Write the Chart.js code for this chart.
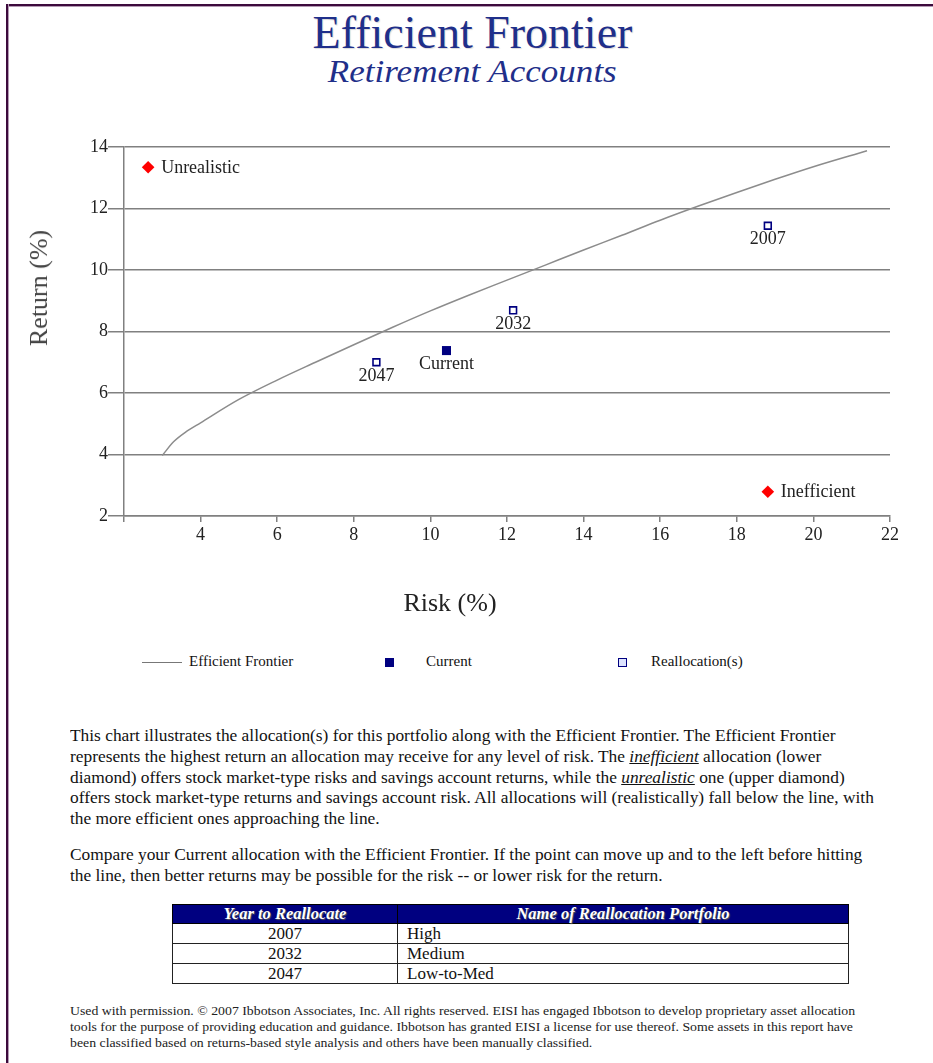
<!DOCTYPE html>
<html lang="en">
<head>
  <meta charset="UTF-8">
  <title>Efficient Frontier</title>
  <script src="https://cdn.jsdelivr.net/npm/chart.js"></script>
  <style>
    body {
      margin: 0;
      width: 933px;
      height: 1063px;
      position: relative;
      background: #fff;
      font-family: 'Liberation Serif', 'Times New Roman', serif;
      overflow: hidden;
    }
    .frame-top {
      position: absolute; left: 6px; top: 4px; right: 0; height: 2px;
      background: #3c0a3c; border-bottom: 1px solid #b49ab4;
    }
    .frame-left {
      position: absolute; left: 6px; top: 4px; bottom: 0; width: 2px;
      background: #3c0a3c; border-right: 1px solid #b49ab4;
    }
    .title {
      position: absolute; left: 0; width: 945px; text-align: center;
      color: #1f2f8a; top: 8px; font-size: 46px; line-height: 50px;
      text-shadow: 1px 1px 1px rgba(0,0,0,0.15);
    }
    .subtitle {
      position: absolute; left: 0; width: 945px; text-align: center;
      color: #1f2f8a; top: 54px; font-size: 31px; line-height: 36px; font-style: italic;
      transform: scaleX(1.13); transform-origin: 474px 0;
    }
    #wrap {
      position: absolute; left: 0; top: 100px; width: 933px; height: 540px;
    }
    .ytitle {
      position: absolute; left: 39px; top: 288px; font-size: 26px; color: #444;
      transform: translate(-50%, -50%) rotate(-90deg); white-space: nowrap;
    }
    .xtitle {
      position: absolute; left: 450px; top: 603px; font-size: 26px; color: #222;
      transform: translate(-50%, -50%); white-space: nowrap;
    }
    .legend { position: absolute; top: 651px; font-size: 15px; color: #111; line-height: 20px; }
    .text {
      position: absolute; left: 70px; font-size: 16px; line-height: 20.8px; color: #111;
      white-space: nowrap; transform: scaleX(1.085); transform-origin: 0 0;
    }
    table {
      position: absolute; left: 172px; top: 904px; width: 677px;
      border-collapse: collapse; font-size: 17px; color: #111;
    }
    th {
      background: #000080; color: #fff; font-style: italic; font-weight: bold; height: 18px;
      padding: 0; font-size: 16.5px; line-height: 18px; text-shadow: 1px 1px 1px #555; border: 1px solid #000;
    }
    td { border: 1px solid #222; height: 19px; padding: 0; line-height: 19px; }
    td.c { text-align: center; width: 224px; }
    td.l { padding-left: 9px; }
    .foot {
      position: absolute; left: 70px; top: 1003px; font-size: 11.5px; line-height: 16px; color: #222;
      white-space: nowrap; transform: scaleX(1.2); transform-origin: 0 0;
    }
  </style>
</head>
<body>
  <div class="frame-top"></div>
  <div class="frame-left"></div>

  <div class="title">Efficient Frontier</div>
  <div class="subtitle">Retirement Accounts</div>

  <div id="wrap"><canvas id="chart"></canvas></div>
  <div class="ytitle">Return (%)</div>
  <div class="xtitle">Risk (%)</div>

  <div class="legend" style="left:142px;">
    <span style="display:inline-block;width:40px;height:0;border-top:1px solid #777;vertical-align:middle;margin-right:7px;"></span>Efficient Frontier
  </div>
  <div class="legend" style="left:385px;">
    <span style="display:inline-block;width:9px;height:9px;background:#000080;vertical-align:middle;margin-right:32px;"></span>Current
  </div>
  <div class="legend" style="left:618px;">
    <span style="display:inline-block;width:7px;height:7px;border:1.5px solid #000080;background:#dde3ff;vertical-align:middle;margin-right:24px;"></span>Reallocation(s)
  </div>

  <div class="text" style="top:726px;">
    This chart illustrates the allocation(s) for this portfolio along with the Efficient Frontier. The Efficient Frontier<br>
    represents the highest return an allocation may receive for any level of risk. The <u><i>inefficient</i></u> allocation (lower<br>
    diamond) offers stock market-type risks and savings account returns, while the <u><i>unrealistic</i></u> one (upper diamond)<br>
    offers stock market-type returns and savings account risk. All allocations will (realistically) fall below the line, with<br>
    the more efficient ones approaching the line.
  </div>
  <div class="text" style="top:845px;">
    Compare your Current allocation with the Efficient Frontier. If the point can move up and to the left before hitting<br>
    the line, then better returns may be possible for the risk -- or lower risk for the return.
  </div>

  <table>
    <tr><th>Year to Reallocate</th><th>Name of Reallocation Portfolio</th></tr>
    <tr><td class="c">2007</td><td class="l">High</td></tr>
    <tr><td class="c">2032</td><td class="l">Medium</td></tr>
    <tr><td class="c">2047</td><td class="l">Low-to-Med</td></tr>
  </table>

  <div class="foot">
    Used with permission. &copy; 2007 Ibbotson Associates, Inc. All rights reserved. EISI has engaged Ibbotson to develop proprietary asset allocation<br>
    tools for the purpose of providing education and guidance. Ibbotson has granted EISI a license for use thereof. Some assets in this report have<br>
    been classified based on returns-based style analysis and others have been manually classified.
  </div>

  <script>
    // efficient frontier curve (risk %, return %)
    const frontierRisk = [3.0, 3.3, 3.6, 4, 5, 6, 7, 8, 9, 10, 11, 12, 13, 14, 15, 16, 17, 18, 19, 20, 21.4];
    const frontierReturn = [3.97, 4.42, 4.72, 5.03, 5.79, 6.42, 7.0, 7.57, 8.13, 8.67, 9.18, 9.67, 10.16, 10.65, 11.13, 11.62, 12.08, 12.52, 12.95, 13.36, 13.88];

    const currentRisk = [10.42];
    const currentReturn = [7.38];
    const currentLabels = ['Current'];

    const reallocYears = ['2007', '2032', '2047'];
    const reallocRisk = [18.81, 12.16, 8.59];
    const reallocReturn = [11.44, 8.69, 7.0];

    const diamondLabels = ['Unrealistic', 'Inefficient'];
    const diamondRisk = [2.63, 18.81];
    const diamondReturn = [13.34, 2.79];

    const xTicks = [2, 4, 6, 8, 10, 12, 14, 16, 18, 20, 22];
    const yTicks = [2, 4, 6, 8, 10, 12, 14];

    const toPts = (xs, ys) => xs.map((x, i) => ({ x: x, y: ys[i] }));

    const FONT = "'Liberation Serif', 'Times New Roman', serif";

    // writes point labels to the right of or under each marker
    const pointLabels = {
      id: 'pointLabels',
      afterDatasetsDraw(chart) {
        const ctx = chart.ctx;
        chart.data.datasets.forEach((ds, i) => {
          if (!ds.labels) return;
          const meta = chart.getDatasetMeta(i);
          ctx.save();
          ctx.font = '18px ' + FONT;
          ctx.fillStyle = '#222';
          meta.data.forEach((el, j) => {
            if (ds.labelPos === 'right') {
              ctx.textAlign = 'left';
              ctx.textBaseline = 'middle';
              ctx.fillText(ds.labels[j], el.x + 13, el.y + 1);
            } else {
              ctx.textAlign = 'center';
              ctx.textBaseline = 'middle';
              ctx.fillText(ds.labels[j], el.x, el.y + 14);
            }
          });
          ctx.restore();
        });
      }
    };

    const chart = new Chart(document.getElementById('chart'), {
      type: 'scatter',
      data: {
        datasets: [
          {
            label: 'Efficient Frontier',
            data: toPts(frontierRisk, frontierReturn),
            showLine: true,
            borderColor: '#8c8c8c',
            borderWidth: 1.5,
            pointRadius: 0,
            cubicInterpolationMode: 'monotone'
          },
          {
            label: 'Current',
            data: toPts(currentRisk, currentReturn),
            labels: currentLabels,
            pointStyle: 'rect',
            pointRadius: 6.4,
            backgroundColor: '#000080',
            borderColor: '#000080',
            borderWidth: 0
          },
          {
            label: 'Reallocation(s)',
            data: toPts(reallocRisk, reallocReturn),
            labels: reallocYears,
            pointStyle: 'rect',
            pointRadius: 4.8,
            backgroundColor: '#ffffff',
            borderColor: '#000080',
            borderWidth: 1.6
          },
          {
            label: 'Limits',
            data: toPts(diamondRisk, diamondReturn),
            labels: diamondLabels,
            labelPos: 'right',
            pointStyle: 'rectRot',
            pointRadius: 6.3,
            backgroundColor: '#ff0000',
            borderColor: '#ff0000',
            borderWidth: 0
          }
        ]
      },
      options: {
        responsive: true,
        maintainAspectRatio: false,
        animation: false,
        layout: { padding: { top: 47, right: 43, left: 0, bottom: 0 } },
        plugins: {
          legend: { display: false },
          tooltip: { enabled: false }
        },
        scales: {
          x: {
            type: 'linear',
            min: 2,
            max: 22,
            afterFit: s => { s.height = 124; },
            afterBuildTicks: s => { s.ticks = xTicks.map(v => ({ value: v })); },
            border: { display: true, color: '#808080', width: 1.5 },
            grid: { drawOnChartArea: false, color: '#808080', lineWidth: 1.5, tickLength: 6 },
            ticks: {
              padding: 2,
              color: '#222',
              font: { family: FONT, size: 18 },
              callback: v => (v === 2 ? '' : v)
            }
          },
          y: {
            type: 'linear',
            min: 2,
            max: 14,
            afterFit: s => { s.width = 124; },
            afterBuildTicks: s => { s.ticks = yTicks.map(v => ({ value: v })); },
            border: { display: true, color: '#808080', width: 1.5 },
            grid: { color: '#808080', lineWidth: 1.5, tickLength: 16 },
            ticks: {
              padding: 0,
              color: '#222',
              font: { family: FONT, size: 18 }
            }
          }
        }
      },
      plugins: [pointLabels]
    });
  </script>
</body>
</html>
